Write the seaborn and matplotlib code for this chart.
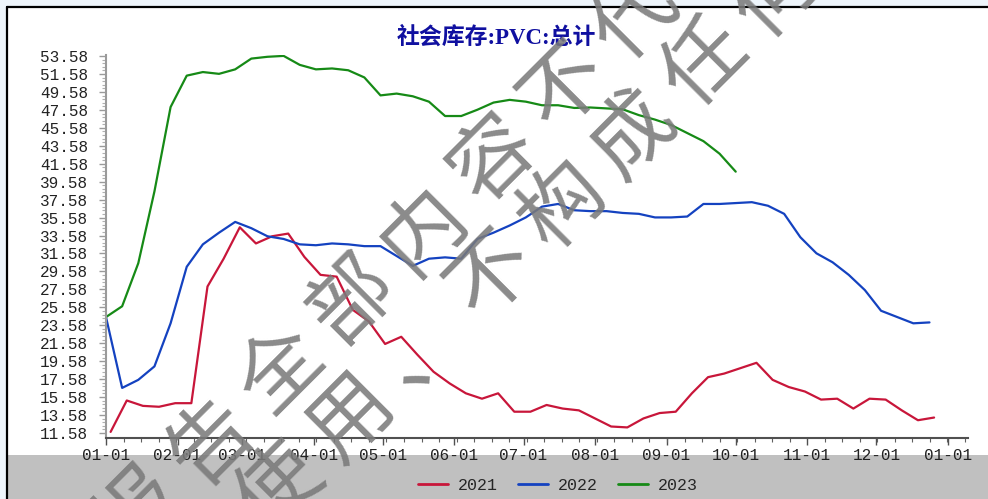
import numpy as np
import pandas as pd
import matplotlib
matplotlib.use('Agg')
import matplotlib.pyplot as plt
import seaborn as sns
from matplotlib.patches import Rectangle
from matplotlib.lines import Line2D
from matplotlib.ticker import FixedLocator

# weekly social inventory of PVC (10k t)
stock_2021 = [11.7, 15.2, 14.6, 14.5, 14.9, 14.9, 27.9, 31.0, 34.5, 32.7,
              33.5, 33.8, 31.2, 29.2, 29.0, 25.3, 24.0, 21.5, 22.3, 20.3,
              18.4, 17.1, 16.0, 15.4, 16.0, 13.95, 13.95, 14.7, 14.3, 14.1,
              13.2, 12.3, 12.2, 13.2, 13.8, 13.95, 16.0, 17.8, 18.2, 18.8,
              19.4, 17.5, 16.7, 16.2, 15.3, 15.4, 14.3, 15.4, 15.3, 14.1,
              13.0, 13.3]
stock_2022 = [24.5, 16.6, 17.5, 19.0, 23.8, 30.1, 32.6, 33.9, 35.1, 34.4,
              33.5, 33.2, 32.6, 32.5, 32.7, 32.6, 32.4, 32.4, 31.3, 30.2,
              31.0, 31.15, 31.0, 33.2, 33.9, 34.7, 35.6, 36.8, 37.1, 36.4,
              36.3, 36.3, 36.1, 36.0, 35.6, 35.6, 35.7, 37.1, 37.1, 37.2,
              37.3, 36.9, 36.0, 33.4, 31.6, 30.6, 29.2, 27.5, 25.2, 24.5,
              23.8, 23.9]
stock_2023 = [24.5, 25.7, 30.5, 38.5, 47.9, 51.4, 51.8, 51.6, 52.1, 53.3,
              53.5, 53.6, 52.6, 52.1, 52.2, 52.0, 51.2, 49.2, 49.4, 49.1,
              48.5, 46.9, 46.9, 47.6, 48.4, 48.7, 48.5, 48.1, 48.1, 47.8,
              47.85, 47.75, 47.65, 47.0, 46.5, 45.9, 45.0, 44.1, 42.7, 40.7]

dates_2021 = pd.date_range('2021-01-03', periods=len(stock_2021), freq='7D')
dates_2022 = pd.date_range('2022-01-01', periods=len(stock_2022), freq='7D')
dates_2023 = pd.date_range('2023-01-01', periods=len(stock_2023), freq='7D')

years = ['2021', '2022', '2023']
colors = {'2021': '#c8163a', '2022': '#1442c0', '2023': '#168a16'}

month_days = [0, 31, 59, 90, 120, 151, 181, 212, 243, 273, 304, 334, 365]
month_labels = ['01-01', '02-01', '03-01', '04-01', '05-01', '06-01', '07-01',
                '08-01', '09-01', '10-01', '11-01', '12-01', '01-01']
yticks = [11.58 + 2 * k for k in range(22)]

frames = []
for yr, d, v in zip(years, [dates_2021, dates_2022, dates_2023],
                    [stock_2021, stock_2022, stock_2023]):
    frames.append(pd.DataFrame({'day': d.dayofyear - 1, 'stock': v, 'year': yr}))
df = pd.concat(frames, ignore_index=True)

sns.set_style('white')
plt.rcParams['font.family'] = ['Liberation Mono', 'Noto Sans CJK SC']

W, H = 988, 499
fig = plt.figure(figsize=(W / 100, H / 100), dpi=100, facecolor='#eef5fb')

# panel background: white chart area, gray strip at the bottom, black frame
fig.add_artist(Rectangle((8 / W, 1 - 455 / H), 1, (455 - 8) / H,
                         transform=fig.transFigure, facecolor='white',
                         edgecolor='none', zorder=-10))
fig.add_artist(Rectangle((8 / W, 0), 1, 1 - 455 / H,
                         transform=fig.transFigure, facecolor='#c0c0c0',
                         edgecolor='none', zorder=-10))
fig.add_artist(Line2D([7 / W, 1], [1 - 7 / H, 1 - 7 / H], transform=fig.transFigure,
                      color='black', lw=1.6, zorder=-5))
fig.add_artist(Line2D([7 / W, 7 / W], [0, 1 - 7 / H], transform=fig.transFigure,
                      color='black', lw=1.6, zorder=-5))

ax = fig.add_axes([106 / W, 1 - 438 / H, (968 - 106) / W, (438 - 55) / H])
ax.set_facecolor('none')

sns.lineplot(data=df, x='day', y='stock', hue='year', palette=colors,
             estimator=None, sort=False, lw=1.6, ax=ax, legend=False)

ax.set_xlim(0, 373.7)
ax.set_ylim(11.02, 53.7)
ax.set_xlabel('')
ax.set_ylabel('')

ax.set_xticks(month_days)
ax.set_xticklabels(month_labels, fontsize=11.5)
ax.xaxis.set_minor_locator(FixedLocator(np.arange(0, 373, 7.6)))
ax.set_yticks(yticks)
ax.set_yticklabels([f'{v:.2f}' for v in yticks], fontsize=11.5)
ax.yaxis.set_minor_locator(FixedLocator(np.arange(11.58, 53.7, 0.4)))

for s in ['top', 'right']:
    ax.spines[s].set_visible(False)
ax.spines['left'].set_color('#9a9a9a')
ax.spines['left'].set_linewidth(1.5)
ax.spines['bottom'].set_color('#505050')
ax.spines['bottom'].set_linewidth(1.5)
ax.tick_params(axis='y', which='major', direction='out', length=5, width=1,
               color='#9a9a9a', pad=8, labelcolor='#222222', left=True)
ax.tick_params(axis='y', which='minor', direction='out', length=3, width=0.8,
               color='#b0b0b0', left=True)
ax.tick_params(axis='x', which='major', direction='out', length=5, width=1,
               color='#505050', pad=2.5, labelcolor='#222222', bottom=True)
ax.tick_params(axis='x', which='minor', direction='out', length=3, width=0.8,
               color='#606060', bottom=True)

fig.text(496 / W, 1 - 37 / H, '社会库存:PVC:总计', ha='center', va='center',
         fontsize=16.5, fontweight='bold', color='#1010a0',
         family=['Liberation Serif', 'Noto Sans CJK SC'])

handles = [Line2D([], [], color=colors[y], lw=2) for y in years]
fig.legend(handles, years, loc='center', bbox_to_anchor=(558 / W, 1 - 485 / H),
           ncol=3, frameon=False, fontsize=12, handlelength=1.8,
           handletextpad=0.6, columnspacing=1.2)

# diagonal watermark, one glyph at a time
def watermark(text, x0, y0, step=100, angle=45):
    dx = step * np.cos(np.radians(angle))
    dy = step * np.sin(np.radians(angle))
    for k, ch in enumerate(text):
        fig.text((x0 + k * dx) / W, 1 - (y0 - k * dy) / H, ch, rotation=angle,
                 rotation_mode='anchor', ha='center', va='center', fontsize=60,
                 color='#7a7a7a', alpha=0.88,
                 family=['Noto Sans CJK SC'], zorder=10)

watermark('报告全部内容不代表', 140, 512)
watermark('使用、不构成任何', 280, 488)

fig.savefig('out.png', dpi=100, facecolor=fig.get_facecolor())
